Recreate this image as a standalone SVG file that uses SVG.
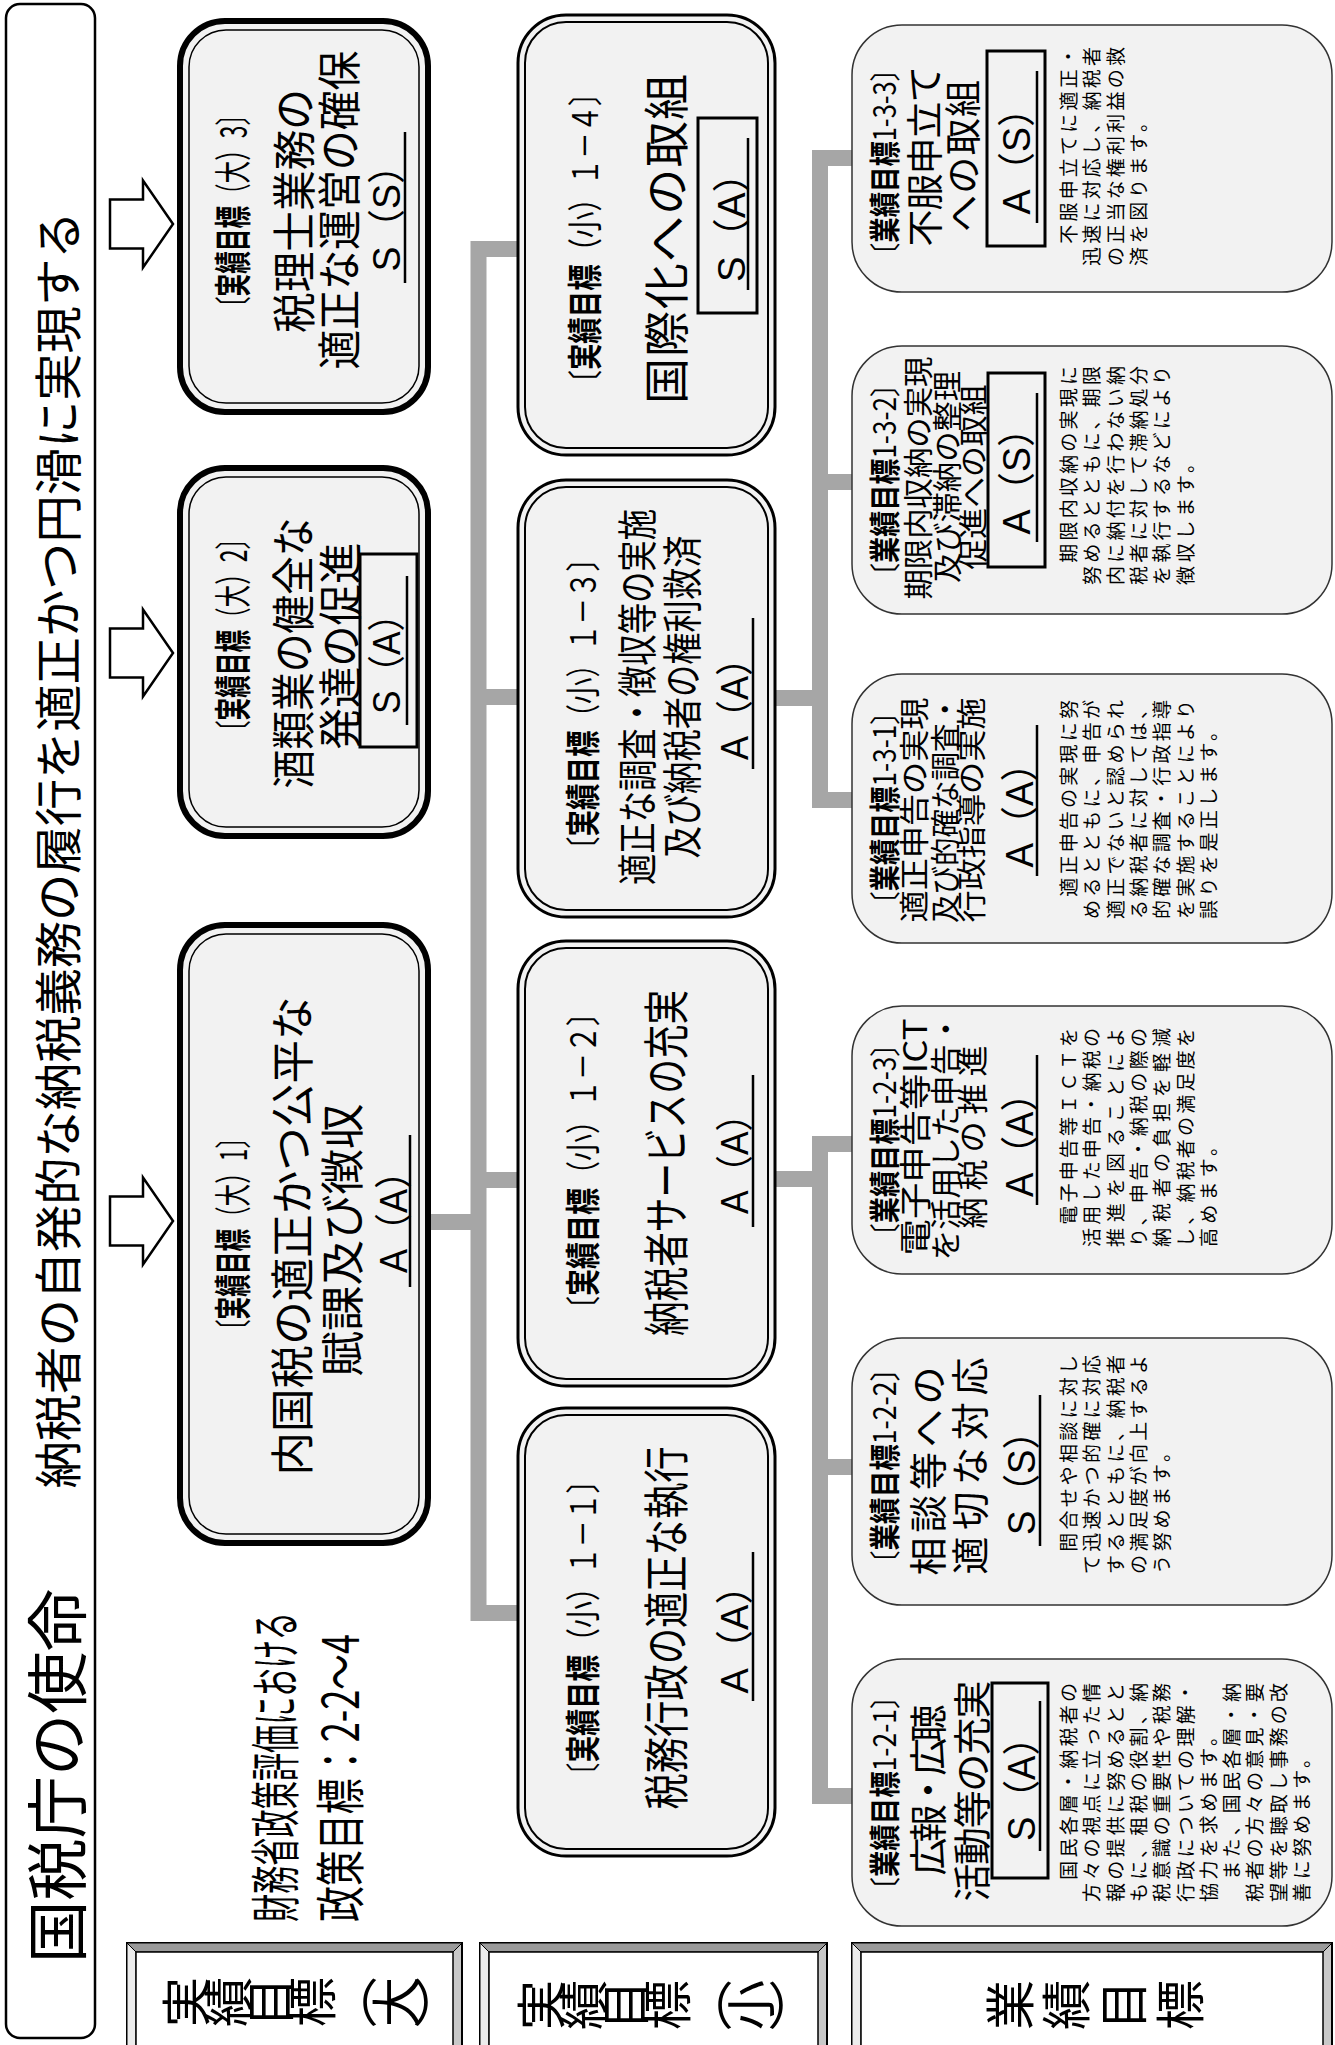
<svg xmlns="http://www.w3.org/2000/svg" width="1335" height="2045" viewBox="0 0 1335 2045">
<defs>
<style>
.t{font-family:"Noto Sans CJK JP","Liberation Sans",sans-serif;dominant-baseline:central;fill:#000}
.h{font-family:"Noto Sans CJK JP","Liberation Sans",sans-serif;font-size:50px;fill:#000}
.m{text-anchor:middle}
.s{text-anchor:start}
.r{font-family:"Liberation Sans","Noto Sans CJK JP",sans-serif;font-size:38px}
.d{font-size:19px}
.b{font-weight:700}
.conn{fill:none;stroke:#a6a6a6;stroke-width:16}
.big{fill:#f2f2f2;stroke:#000;stroke-width:6}
.bigin{fill:none;stroke:#000;stroke-width:1.5}
.mid{fill:#f2f2f2;stroke:#000;stroke-width:3}
.midin{fill:none;stroke:#000;stroke-width:2}
.card{fill:#f2f2f2;stroke:#333;stroke-width:1.5}
.rbox{fill:none;stroke:#000;stroke-width:3}
.ul{stroke:#000;stroke-width:2.5}
.arrow{fill:#fff;stroke:#000;stroke-width:2.5}
.bev{stroke:#000;stroke-width:1}
</style>
<path id="barrow" class="arrow" d="M0,-24.5 H33 V-43.5 L63,0 L33,43.5 V24.5 H0 Z"/>
</defs>
<rect width="1335" height="2045" fill="#fff"/>

<g id="title">
<rect x="6" y="4" width="89" height="2034" rx="14" fill="#fff" stroke="#000" stroke-width="2.5"/>
<text class="t m" font-size="62" textLength="374" lengthAdjust="spacingAndGlyphs" transform="translate(54,1776) rotate(-90)">国税庁の使命</text>
<text class="t m" font-size="48" textLength="1277" lengthAdjust="spacingAndGlyphs" transform="translate(55,850) rotate(-90)">納税者の自発的な納税義務の履行を適正かつ円滑に実現する</text>
</g>

<g id="policy">
<text class="t s" font-size="50" textLength="310" lengthAdjust="spacingAndGlyphs" transform="translate(272,1922) rotate(-90)">財務省政策評価における</text>
<text class="t s" font-size="50" textLength="288" lengthAdjust="spacingAndGlyphs" transform="translate(337,1922) rotate(-90)">政策目標：2-2〜4</text>
</g>

<g id="connectors">
<use href="#barrow" x="110" y="224"/>
<use href="#barrow" x="110" y="653"/>
<use href="#barrow" x="110" y="1221"/>
<path class="conn" d="M518,249 H478.5 V1613 H518"/>
<path class="conn" d="M478.5,697 H518 M478.5,1180 H518 M430,1222 H478.5"/>
<path class="conn" d="M852,158 H820 V800 H852 M820,482 H852 M775,698 H820"/>
<path class="conn" d="M852,1144 H820 V1796 H852 M820,1467 H852 M775,1179 H820"/>
</g>

<g id="goal-l3">
<rect class="big" x="180" y="21" width="248" height="391" rx="45"/>
<rect class="bigin" x="189" y="30" width="230" height="373" rx="37"/>
<text class="t m" font-size="37" textLength="216" lengthAdjust="spacingAndGlyphs" transform="translate(231,211) rotate(-90)">〔<tspan class="b">実績目標</tspan>（大）3〕</text>
<text class="t m" font-size="44" textLength="244" lengthAdjust="spacingAndGlyphs" transform="translate(292,211) rotate(-90)">税理士業務の</text>
<text class="t m" font-size="44" textLength="319" lengthAdjust="spacingAndGlyphs" transform="translate(337,210) rotate(-90)">適正な運営の確保</text>
<text class="t m r" textLength="125" lengthAdjust="spacingAndGlyphs" transform="translate(387,209) rotate(-90)">S（S）</text>
<line class="ul" x1="405" y1="132" x2="405" y2="283"/>
</g>

<g id="goal-l2">
<rect class="big" x="180" y="468" width="248" height="368" rx="45"/>
<rect class="bigin" x="189" y="477" width="230" height="350" rx="37"/>
<text class="t m" font-size="37" textLength="216" lengthAdjust="spacingAndGlyphs" transform="translate(231,635) rotate(-90)">〔<tspan class="b">実績目標</tspan>（大）2〕</text>
<text class="t m" font-size="44" textLength="271" lengthAdjust="spacingAndGlyphs" transform="translate(291,653) rotate(-90)">酒類業の健全な</text>
<text class="t m" font-size="44" textLength="207" lengthAdjust="spacingAndGlyphs" transform="translate(338,646) rotate(-90)">発達の促進</text>
<rect class="rbox" x="360" y="554" width="57" height="193"/>
<text class="t m r" textLength="118" lengthAdjust="spacingAndGlyphs" transform="translate(387,655) rotate(-90)">S（A）</text>
<line class="ul" x1="407" y1="576" x2="407" y2="725"/>
</g>

<g id="goal-l1">
<rect class="big" x="180" y="925" width="248" height="618" rx="45"/>
<rect class="bigin" x="189" y="934" width="230" height="600" rx="37"/>
<text class="t m" font-size="37" textLength="216" lengthAdjust="spacingAndGlyphs" transform="translate(231,1234) rotate(-90)">〔<tspan class="b">実績目標</tspan>（大）1〕</text>
<text class="t m" font-size="44" textLength="479" lengthAdjust="spacingAndGlyphs" transform="translate(290,1236) rotate(-90)">内国税の適正かつ公平な</text>
<text class="t m" font-size="44" textLength="273" lengthAdjust="spacingAndGlyphs" transform="translate(340,1240) rotate(-90)">賦課及び徴収</text>
<text class="t m r" textLength="120" lengthAdjust="spacingAndGlyphs" transform="translate(394,1213) rotate(-90)">A（A）</text>
<line class="ul" x1="410" y1="1135" x2="410" y2="1287"/>
</g>

<g id="goal-s14">
<rect class="mid" x="518" y="15" width="257" height="440" rx="48"/>
<rect class="midin" x="525" y="22" width="243" height="426" rx="41"/>
<text class="t m" font-size="35" textLength="317" lengthAdjust="spacingAndGlyphs" transform="translate(582,238) rotate(-90)">〔<tspan class="b">実績目標</tspan>（小）１－４〕</text>
<text class="t m" font-size="46" textLength="330" lengthAdjust="spacing" transform="translate(663,239) rotate(-90)">国際化への取組</text>
<rect class="rbox" x="698" y="118" width="59" height="195"/>
<text class="t m r" textLength="128" lengthAdjust="spacingAndGlyphs" transform="translate(732,218) rotate(-90)">S（A）</text>
<line class="ul" x1="748" y1="138" x2="748" y2="290"/>
</g>

<g id="goal-s13">
<rect class="mid" x="518" y="480" width="257" height="437" rx="48"/>
<rect class="midin" x="525" y="487" width="243" height="423" rx="41"/>
<text class="t m" font-size="35" textLength="318" lengthAdjust="spacingAndGlyphs" transform="translate(580,704) rotate(-90)">〔<tspan class="b">実績目標</tspan>（小）１－３〕</text>
<text class="t m" font-size="40" textLength="376" lengthAdjust="spacingAndGlyphs" transform="translate(635,697) rotate(-90)">適正な調査・徴収等の実施</text>
<text class="t m" font-size="40" textLength="323" lengthAdjust="spacingAndGlyphs" transform="translate(680,697) rotate(-90)">及び納税者の権利救済</text>
<text class="t m r" textLength="120" lengthAdjust="spacingAndGlyphs" transform="translate(735,700) rotate(-90)">A（A）</text>
<line class="ul" x1="753" y1="618" x2="753" y2="769"/>
</g>

<g id="goal-s12">
<rect class="mid" x="518" y="941" width="257" height="445" rx="48"/>
<rect class="midin" x="525" y="948" width="243" height="431" rx="41"/>
<text class="t m" font-size="35" textLength="324" lengthAdjust="spacingAndGlyphs" transform="translate(580,1161) rotate(-90)">〔<tspan class="b">実績目標</tspan>（小）１－２〕</text>
<text class="t m" font-size="46" textLength="346" lengthAdjust="spacingAndGlyphs" transform="translate(663,1163) rotate(-90)">納税者サービスの充実</text>
<text class="t m r" textLength="118" lengthAdjust="spacingAndGlyphs" transform="translate(735,1155) rotate(-90)">A（A）</text>
<line class="ul" x1="753" y1="1075" x2="753" y2="1227"/>
</g>

<g id="goal-s11">
<rect class="mid" x="518" y="1408" width="257" height="448" rx="48"/>
<rect class="midin" x="525" y="1415" width="243" height="434" rx="41"/>
<text class="t m" font-size="35" textLength="323" lengthAdjust="spacingAndGlyphs" transform="translate(580,1628) rotate(-90)">〔<tspan class="b">実績目標</tspan>（小）１－１〕</text>
<text class="t m" font-size="46" textLength="363" lengthAdjust="spacingAndGlyphs" transform="translate(663,1628) rotate(-90)">税務行政の適正な執行</text>
<text class="t m r" textLength="127" lengthAdjust="spacingAndGlyphs" transform="translate(735,1630) rotate(-90)">A（A）</text>
<line class="ul" x1="753" y1="1552" x2="753" y2="1701"/>
</g>

<g id="op-133">
<rect class="card" x="852" y="25" width="480" height="267" rx="50"/>
<text class="t m" font-size="31" textLength="212" lengthAdjust="spacingAndGlyphs" transform="translate(882,162) rotate(-90)">〔<tspan class="b">業績目標</tspan>1-3-3〕</text>
<text class="t m" font-size="37" textLength="181" lengthAdjust="spacing" transform="translate(923,156) rotate(-90)">不服申立て</text>
<text class="t m" font-size="37" textLength="152" lengthAdjust="spacing" transform="translate(961,156) rotate(-90)">への取組</text>
<rect class="rbox" x="987" y="51" width="58" height="195"/>
<text class="t m r" textLength="125" lengthAdjust="spacingAndGlyphs" transform="translate(1017,152) rotate(-90)">A（S）</text>
<line class="ul" x1="1037" y1="71" x2="1037" y2="223"/>
<text class="t s d" textLength="219" lengthAdjust="spacing" transform="translate(1067,266) rotate(-90)">　不服申立てに適正・</text>
<text class="t s d" textLength="219" lengthAdjust="spacing" transform="translate(1090,266) rotate(-90)">迅速に対応し、納税者</text>
<text class="t s d" textLength="219" lengthAdjust="spacing" transform="translate(1114,266) rotate(-90)">の正当な権利利益の救</text>
<text class="t s d" textLength="153" lengthAdjust="spacing" transform="translate(1137,266) rotate(-90)">済を図ります。</text>
</g>

<g id="op-132">
<rect class="card" x="852" y="346" width="480" height="268" rx="50"/>
<text class="t m" font-size="31" textLength="218" lengthAdjust="spacingAndGlyphs" transform="translate(882,480) rotate(-90)">〔<tspan class="b">業績目標</tspan>1-3-2〕</text>
<text class="t m" font-size="30" textLength="243" lengthAdjust="spacingAndGlyphs" transform="translate(916,478) rotate(-90)">期限内収納の実現</text>
<text class="t m" font-size="30" textLength="212" lengthAdjust="spacingAndGlyphs" transform="translate(945,477) rotate(-90)">及び滞納の整理</text>
<text class="t m" font-size="30" textLength="185" lengthAdjust="spacingAndGlyphs" transform="translate(971,477) rotate(-90)">促進への取組</text>
<rect class="rbox" x="988" y="373" width="57" height="194"/>
<text class="t m r" textLength="125" lengthAdjust="spacingAndGlyphs" transform="translate(1017,472) rotate(-90)">A（S）</text>
<line class="ul" x1="1037" y1="393" x2="1037" y2="542"/>
<text class="t s d" textLength="219" lengthAdjust="spacing" transform="translate(1067,585) rotate(-90)">　期限内収納の実現に</text>
<text class="t s d" textLength="219" lengthAdjust="spacing" transform="translate(1090,585) rotate(-90)">努めるとともに、期限</text>
<text class="t s d" textLength="219" lengthAdjust="spacing" transform="translate(1114,585) rotate(-90)">内に納付を行わない納</text>
<text class="t s d" textLength="219" lengthAdjust="spacing" transform="translate(1137,585) rotate(-90)">税者に対して滞納処分</text>
<text class="t s d" textLength="219" lengthAdjust="spacing" transform="translate(1160,585) rotate(-90)">を執行するなどにより</text>
<text class="t s d" textLength="131" lengthAdjust="spacing" transform="translate(1184,585) rotate(-90)">徴収します。</text>
</g>

<g id="op-131">
<rect class="card" x="852" y="674" width="480" height="269" rx="50"/>
<text class="t m" font-size="31" textLength="219" lengthAdjust="spacingAndGlyphs" transform="translate(882,808) rotate(-90)">〔<tspan class="b">業績目標</tspan>1-3-1〕</text>
<text class="t m" font-size="30" textLength="225" lengthAdjust="spacingAndGlyphs" transform="translate(912,810) rotate(-90)">適正申告の実現</text>
<text class="t m" font-size="30" textLength="228" lengthAdjust="spacingAndGlyphs" transform="translate(943,809) rotate(-90)">及び的確な調査・</text>
<text class="t m" font-size="30" textLength="225" lengthAdjust="spacingAndGlyphs" transform="translate(969,810) rotate(-90)">行政指導の実施</text>
<text class="t m r" textLength="123" lengthAdjust="spacingAndGlyphs" transform="translate(1020,806) rotate(-90)">A（A）</text>
<line class="ul" x1="1037" y1="725" x2="1037" y2="876"/>
<text class="t s d" textLength="219" lengthAdjust="spacing" transform="translate(1067,919) rotate(-90)">　適正申告の実現に努</text>
<text class="t s d" textLength="219" lengthAdjust="spacing" transform="translate(1090,919) rotate(-90)">めるとともに、申告が</text>
<text class="t s d" textLength="219" lengthAdjust="spacing" transform="translate(1114,919) rotate(-90)">適正でないと認められ</text>
<text class="t s d" textLength="219" lengthAdjust="spacing" transform="translate(1137,919) rotate(-90)">る納税者に対しては、</text>
<text class="t s d" textLength="219" lengthAdjust="spacing" transform="translate(1160,919) rotate(-90)">的確な調査・行政指導</text>
<text class="t s d" textLength="219" lengthAdjust="spacing" transform="translate(1184,919) rotate(-90)">を実施することにより</text>
<text class="t s d" textLength="197" lengthAdjust="spacing" transform="translate(1207,919) rotate(-90)">誤りを是正します。</text>
</g>

<g id="op-123">
<rect class="card" x="852" y="1006" width="480" height="268" rx="50"/>
<text class="t m" font-size="31" textLength="219" lengthAdjust="spacingAndGlyphs" transform="translate(882,1140) rotate(-90)">〔<tspan class="b">業績目標</tspan>1-2-3〕</text>
<text class="t m" font-size="32" textLength="237" lengthAdjust="spacingAndGlyphs" transform="translate(913,1137) rotate(-90)">電子申告等ICT</text>
<text class="t m" font-size="31" textLength="247" lengthAdjust="spacingAndGlyphs" transform="translate(943,1137) rotate(-90)">を活用した申告・</text>
<text class="t m" font-size="31" textLength="183" lengthAdjust="spacing" transform="translate(970,1137) rotate(-90)">納税の推進</text>
<text class="t m r" textLength="122" lengthAdjust="spacingAndGlyphs" transform="translate(1020,1136) rotate(-90)">A（A）</text>
<line class="ul" x1="1037" y1="1055" x2="1037" y2="1205"/>
<text class="t s d" textLength="219" lengthAdjust="spacing" transform="translate(1067,1247) rotate(-90)">　電子申告等ＩＣＴを</text>
<text class="t s d" textLength="219" lengthAdjust="spacing" transform="translate(1090,1247) rotate(-90)">活用した申告・納税の</text>
<text class="t s d" textLength="219" lengthAdjust="spacing" transform="translate(1114,1247) rotate(-90)">推進を図ることによ</text>
<text class="t s d" textLength="219" lengthAdjust="spacing" transform="translate(1137,1247) rotate(-90)">り、申告・納税の際の</text>
<text class="t s d" textLength="219" lengthAdjust="spacing" transform="translate(1160,1247) rotate(-90)">納税者の負担を軽減</text>
<text class="t s d" textLength="219" lengthAdjust="spacing" transform="translate(1184,1247) rotate(-90)">し、納税者の満足度を</text>
<text class="t s d" textLength="110" lengthAdjust="spacing" transform="translate(1207,1247) rotate(-90)">高めます。</text>
</g>

<g id="op-122">
<rect class="card" x="852" y="1338" width="480" height="267" rx="50"/>
<text class="t m" font-size="31" textLength="222" lengthAdjust="spacingAndGlyphs" transform="translate(882,1466) rotate(-90)">〔<tspan class="b">業績目標</tspan>1-2-2〕</text>
<text class="t m" font-size="38" textLength="209" lengthAdjust="spacing" transform="translate(925,1471) rotate(-90)">相談等への</text>
<text class="t m" font-size="38" textLength="217" lengthAdjust="spacing" transform="translate(967,1466) rotate(-90)">適切な対応</text>
<text class="t m r" textLength="122" lengthAdjust="spacingAndGlyphs" transform="translate(1022,1474) rotate(-90)">S（S）</text>
<line class="ul" x1="1040" y1="1395" x2="1040" y2="1546"/>
<text class="t s d" textLength="219" lengthAdjust="spacing" transform="translate(1067,1574) rotate(-90)">　問合せや相談に対し</text>
<text class="t s d" textLength="219" lengthAdjust="spacing" transform="translate(1090,1574) rotate(-90)">て迅速かつ的確に対応</text>
<text class="t s d" textLength="219" lengthAdjust="spacing" transform="translate(1114,1574) rotate(-90)">するとともに、納税者</text>
<text class="t s d" textLength="219" lengthAdjust="spacing" transform="translate(1137,1574) rotate(-90)">の満足度が向上するよ</text>
<text class="t s d" textLength="131" lengthAdjust="spacing" transform="translate(1160,1574) rotate(-90)">う努めます。</text>
</g>

<g id="op-121">
<rect class="card" x="852" y="1659" width="480" height="267" rx="50"/>
<text class="t m" font-size="31" textLength="221" lengthAdjust="spacingAndGlyphs" transform="translate(882,1793) rotate(-90)">〔<tspan class="b">業績目標</tspan>1-2-1〕</text>
<text class="t m" font-size="38" textLength="171" lengthAdjust="spacing" transform="translate(925,1790) rotate(-90)">広報・広聴</text>
<text class="t m" font-size="38" textLength="221" lengthAdjust="spacing" transform="translate(969,1791) rotate(-90)">活動等の充実</text>
<rect class="rbox" x="992" y="1683" width="56" height="195"/>
<text class="t m r" textLength="122" lengthAdjust="spacingAndGlyphs" transform="translate(1022,1780) rotate(-90)">S（A）</text>
<line class="ul" x1="1040" y1="1701" x2="1040" y2="1851"/>
<text class="t s d" textLength="219" lengthAdjust="spacing" transform="translate(1067,1902) rotate(-90)">　国民各層・納税者の</text>
<text class="t s d" textLength="219" lengthAdjust="spacing" transform="translate(1090,1902) rotate(-90)">方々の視点に立った情</text>
<text class="t s d" textLength="219" lengthAdjust="spacing" transform="translate(1114,1902) rotate(-90)">報の提供に努めるとと</text>
<text class="t s d" textLength="219" lengthAdjust="spacing" transform="translate(1137,1902) rotate(-90)">もに、租税の役割、納</text>
<text class="t s d" textLength="219" lengthAdjust="spacing" transform="translate(1160,1902) rotate(-90)">税意識の重要性や税務</text>
<text class="t s d" textLength="219" lengthAdjust="spacing" transform="translate(1184,1902) rotate(-90)">行政についての理解・</text>
<text class="t s d" textLength="175" lengthAdjust="spacing" transform="translate(1207,1902) rotate(-90)">協力を求めます。</text>
<text class="t s d" textLength="219" lengthAdjust="spacing" transform="translate(1230,1902) rotate(-90)">　また、国民各層・納</text>
<text class="t s d" textLength="219" lengthAdjust="spacing" transform="translate(1253,1902) rotate(-90)">税者の方々の意見・要</text>
<text class="t s d" textLength="219" lengthAdjust="spacing" transform="translate(1277,1902) rotate(-90)">望等を聴取し事務の改</text>
<text class="t s d" textLength="153" lengthAdjust="spacing" transform="translate(1300,1902) rotate(-90)">善に努めます。</text>
</g>

<g id="header-large">
<rect x="127" y="1943" width="335" height="120" fill="#c8c8c8" stroke="#000" stroke-width="2"/>
<polygon class="bev" points="127,1943 462,1943 453,1952 136,1952" fill="#9a9a9a"/>
<polygon class="bev" points="127,1943 136,1952 136,2063 127,2063" fill="#ececec"/>
<rect x="136" y="1952" width="317" height="111" fill="#fff" stroke="#000" stroke-width="1.5"/>
<text class="h" x="204.5" y="2027" letter-spacing="-8" rotate="-90 -90 -90 -90 0 -90 0" dx="0 0 0 0 -44 44 -44" dy="0 0 0 0 -6 6 -6">実績目標（大）</text>
</g>
<g id="header-small">
<rect x="480" y="1943" width="347" height="120" fill="#c8c8c8" stroke="#000" stroke-width="2"/>
<polygon class="bev" points="480,1943 827,1943 818,1952 489,1952" fill="#9a9a9a"/>
<polygon class="bev" points="480,1943 489,1952 489,2063 480,2063" fill="#ececec"/>
<rect x="489" y="1952" width="329" height="111" fill="#fff" stroke="#000" stroke-width="1.5"/>
<text class="h" x="559.5" y="2030" letter-spacing="-8" rotate="-90 -90 -90 -90 0 -90 0" dx="0 0 0 0 -44 44 -44" dy="0 0 0 0 -6 6 -6">実績目標（小）</text>
</g>
<g id="header-op">
<rect x="852" y="1943" width="480" height="120" fill="#c8c8c8" stroke="#000" stroke-width="2"/>
<polygon class="bev" points="852,1943 1332,1943 1323,1952 861,1952" fill="#9a9a9a"/>
<polygon class="bev" points="852,1943 861,1952 861,2063 852,2063" fill="#ececec"/>
<rect x="861" y="1952" width="462" height="111" fill="#fff" stroke="#000" stroke-width="1.5"/>
<text class="h" x="1028.5" y="2030" letter-spacing="6.7" rotate="-90">業績目標</text>
</g>
</svg>
